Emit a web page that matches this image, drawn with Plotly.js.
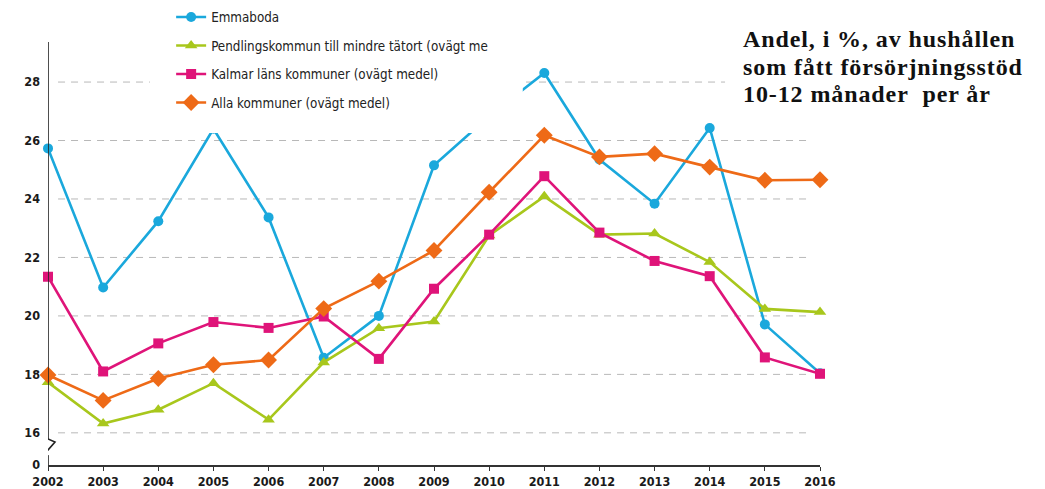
<!DOCTYPE html>
<html>
<head>
<meta charset="utf-8">
<script src="https://cdn.plot.ly/plotly-3.0.1.min.js"></script>
<style>
  html, body { margin: 0; padding: 0; background: #ffffff; }
  #chart { width: 1045px; height: 489px; }
  #chart .annotation-text { letter-spacing: 0.9px; }
</style>
</head>
<body>
<div id="chart"></div>
<script>
// ---- Data ----
const years = [2002, 2003, 2004, 2005, 2006, 2007, 2008, 2009, 2010, 2011, 2012, 2013, 2014, 2015, 2016];
const emmaboda = [25.73, 20.97, 23.24, 26.4, 23.37, 18.57, 20.0, 25.15, 26.83, 28.31, 25.35, 23.84, 26.43, 19.71, 18.04];
const pendling = [17.73, 16.32, 16.79, 17.7, 16.45, 18.41, 19.58, 19.81, 22.75, 24.09, 22.78, 22.82, 21.84, 20.24, 20.13];
const kalmar = [21.34, 18.1, 19.06, 19.79, 19.59, 19.98, 18.53, 20.93, 22.78, 24.78, 22.85, 21.88, 21.36, 18.58, 18.02];
const alla = [17.98, 17.11, 17.86, 18.33, 18.49, 20.25, 21.19, 22.24, 24.23, 26.18, 25.44, 25.55, 25.09, 24.64, 24.66];

const seriesNames = [
  'Emmaboda',
  'Pendlingskommun till mindre tätort (ovägt me',
  'Kalmar läns kommuner (ovägt medel)',
  'Alla kommuner (ovägt medel)'
];

// y axis has a break: the bottom of the axis stands for 0
const yBottom = 14.9;
const yTop = 29.37;
const yTickVals = [yBottom, 16, 18, 20, 22, 24, 26, 28];
const yTickText = ['0', '16', '18', '20', '22', '24', '26', '28'];
const gridVals = [16, 18, 20, 22, 24, 26, 28];

const titleLines = ['Andel, i %, av hushållen', 'som fått försörjningsstöd', '10-12 månader\u00a0 per år'];

// ---- Styles ----
const colors = ['#1aa8dc', '#a8c71c', '#df1479', '#ee6a17'];
const symbols = ['circle', 'triangle-up', 'square', 'diamond'];
const msizes = [10, 11, 10, 13];
const seriesData = [emmaboda, pendling, kalmar, alla];

const traces = seriesData.map((vals, i) => ({
  type: 'scatter',
  mode: 'lines+markers',
  x: years,
  y: vals,
  name: seriesNames[i],
  legendgroup: 'g' + i,
  line: { color: colors[i], width: 2.6 },
  marker: { color: colors[i], symbol: symbols[i], size: msizes[i] },
  cliponaxis: false,
  hoverinfo: 'skip'
}));

const shapes = [];
// dashed gridlines
gridVals.forEach(v => {
  shapes.push({
    type: 'line', layer: 'below',
    xref: 'paper', x0: 0.013, x1: 0.987,
    yref: 'y', y0: v, y1: v,
    line: { color: '#b8b8b8', width: 1, dash: '7px,6px' }
  });
});
// white box behind the legend (hides lines, as in the reference)
shapes.push({
  type: 'rect', layer: 'above',
  xref: 'paper', x0: 0.132, x1: 0.615,
  yref: 'paper', y0: 0.785, y1: 1.12,
  fillcolor: '#ffffff', line: { width: 0 }
});
// white box behind the text block at top right
shapes.push({
  type: 'rect', layer: 'above',
  xref: 'paper', x0: 0.877, x1: 1.3,
  yref: 'paper', y0: 0.834, y1: 1.12,
  fillcolor: '#ffffff', line: { width: 0 }
});
// y axis line with break zigzag (pixel offsets from the axis bottom)
shapes.push({
  type: 'path', layer: 'above',
  xref: 'x', xsizemode: 'pixel', xanchor: years[0],
  yref: 'y', ysizemode: 'pixel', yanchor: yBottom,
  path: 'M0,423 L0,26 L7,23 L-7,7 L0,9 L0,0',
  line: { color: '#222222', width: 1.6 }
});

const tickFont = { family: 'DejaVu Sans Condensed, DejaVu Sans, sans-serif', size: 12.5, color: '#1a1a1a', weight: 'bold' };

// title block: one annotation per line
const plotTop = 42, plotH = 423;
const lineCenters = [39, 66.5, 94];
const annotations = titleLines.map((t, i) => ({
  xref: 'paper', yref: 'paper',
  x: 0.898, y: 1 + (plotTop - lineCenters[i]) / plotH,
  xanchor: 'left', yanchor: 'middle',
  align: 'left',
  showarrow: false,
  text: t,
  font: { family: 'Liberation Serif, DejaVu Serif, serif', size: 24, color: '#111111', weight: 'bold' }
}));

const layout = {
  width: 1045,
  height: 489,
  margin: { l: 48, r: 225, t: plotTop, b: 24, pad: 0, autoexpand: false },
  paper_bgcolor: '#ffffff',
  plot_bgcolor: '#ffffff',
  showlegend: true,
  legend: {
    x: 0.1595, xanchor: 'left',
    y: 1.095, yanchor: 'top',
    bgcolor: 'rgba(0,0,0,0)',
    borderwidth: 0,
    traceorder: 'grouped',
    tracegroupgap: 8.2,
    itemwidth: 30,
    font: { family: 'DejaVu Sans Condensed, DejaVu Sans, sans-serif', size: 13.3, color: '#222222' }
  },
  xaxis: {
    range: [years[0], years[years.length - 1]],
    tickvals: years,
    ticktext: years.map(String),
    showgrid: false,
    zeroline: false,
    showline: true,
    linecolor: '#333333',
    linewidth: 2,
    ticks: 'outside',
    ticklen: 4,
    tickcolor: '#333333',
    tickfont: tickFont,
    fixedrange: true
  },
  yaxis: {
    range: [yBottom, yTop],
    tickvals: yTickVals,
    ticktext: yTickText,
    showgrid: false,
    zeroline: false,
    showline: false,
    ticks: '',
    ticklabelstandoff: 7,
    tickfont: tickFont,
    fixedrange: true
  },
  shapes: shapes,
  annotations: annotations
};

Plotly.newPlot('chart', traces, layout, { staticPlot: true, displayModeBar: false });
</script>
</body>
</html>
